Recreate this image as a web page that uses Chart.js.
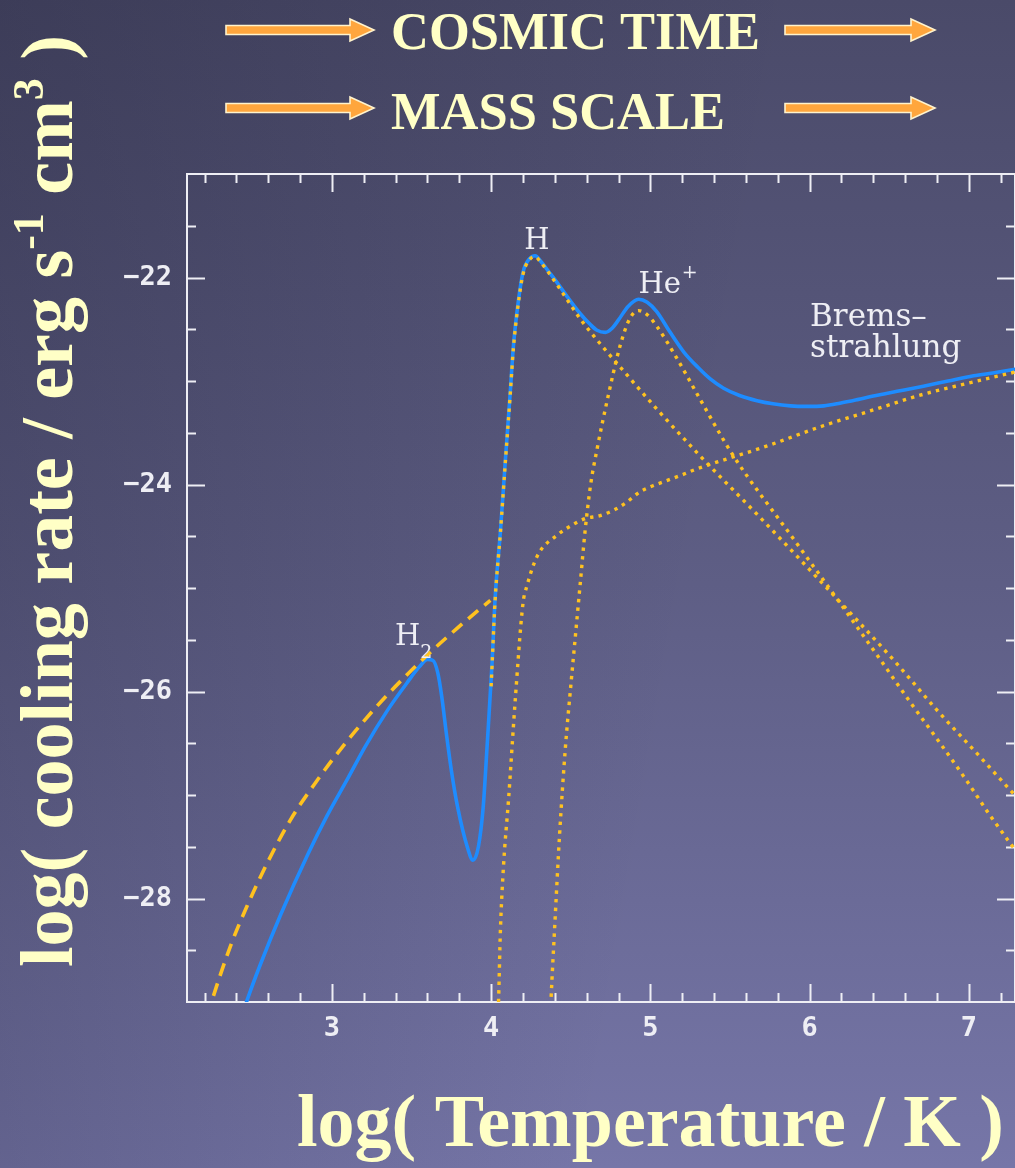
<!DOCTYPE html>
<html>
<head>
<meta charset="utf-8">
<title>Cooling function</title>
<script src="https://cdn.jsdelivr.net/npm/chart.js@4.4.1/dist/chart.umd.min.js"></script>
<style>
  html, body { margin: 0; padding: 0; width: 1015px; height: 1168px; overflow: hidden; }
  body {
    background:
      linear-gradient(100deg, rgba(25,25,45,0.28) 0%, rgba(25,25,45,0) 65%),
      linear-gradient(to bottom, #4a4a69 0%, #5e5e85 50%, #7676a8 100%);
  }
  #wrap { position: relative; width: 1015px; height: 1168px; }
</style>
</head>
<body>
<div id="wrap"><canvas id="chart" width="1015" height="1168"></canvas></div>
<script>
// ---- cooling curves: log T [K] vs log Lambda [erg s^-1 cm^3] ----

// total cooling rate (solid blue)
const totalLogT = [2.40, 2.468, 2.55, 2.68, 2.85, 2.97, 3.10, 3.21, 3.35, 3.47, 3.55, 3.60, 3.635, 3.665,
  3.69, 3.72, 3.75, 3.79, 3.85, 3.886, 3.92, 3.95, 3.975, 4.005, 4.025, 4.058, 4.09, 4.12, 4.14,
  4.17, 4.20, 4.24, 4.277, 4.31, 4.36, 4.41, 4.48, 4.56, 4.62, 4.665, 4.717, 4.76, 4.80, 4.86,
  4.926, 4.98, 5.04, 5.12, 5.21, 5.30, 5.376, 5.46, 5.56, 5.67, 5.77, 5.88, 5.98, 6.09, 6.19,
  6.30, 6.40, 6.55, 6.715, 6.87, 7.03, 7.16, 7.30];
const totalLogL = [-29.30, -28.98, -28.64, -28.15, -27.57, -27.20, -26.84, -26.53, -26.18, -25.92, -25.76, -25.69, -25.70, -25.82,
  -26.05, -26.42, -26.76, -27.12, -27.50, -27.63, -27.50, -27.12, -26.52, -25.75, -25.10, -24.46, -23.75, -23.11, -22.66,
  -22.24, -21.95, -21.82, -21.79, -21.84, -21.94, -22.04, -22.19, -22.35, -22.45, -22.51, -22.53, -22.49, -22.41, -22.28,
  -22.21, -22.24, -22.33, -22.52, -22.72, -22.87, -22.98, -23.07, -23.14, -23.19, -23.22, -23.24, -23.245, -23.24, -23.215,
  -23.18, -23.145, -23.10, -23.05, -23.00, -22.95, -22.92, -22.885];

// molecular hydrogen (dashed)
const h2LogT = [2.18, 2.248, 2.363, 2.468, 2.593, 2.74, 2.907, 3.074, 3.284, 3.47, 3.64, 3.786, 3.90, 3.995];
const h2LogL = [-29.33, -28.98, -28.46, -28.07, -27.66, -27.24, -26.86, -26.52, -26.14, -25.84, -25.59, -25.39, -25.24, -25.12];

// atomic hydrogen line cooling (dotted)
const hLogT = [4.00, 4.025, 4.058, 4.09, 4.12, 4.14, 4.17, 4.20, 4.24, 4.277, 4.31, 4.36, 4.41, 4.48,
  4.56, 4.685, 4.83, 5.04, 5.31, 5.69, 6.09, 6.53, 6.80, 7.04, 7.30];
const hLogL = [-25.95, -25.12, -24.47, -23.77, -23.13, -22.68, -22.26, -21.97, -21.83, -21.80, -21.85, -21.95, -22.06, -22.22,
  -22.40, -22.64, -22.90, -23.27, -23.72, -24.32, -24.97, -25.70, -26.18, -26.58, -27.02];

// singly ionised helium line cooling (dotted)
const heLogT = [4.37, 4.376, 4.40, 4.43, 4.466, 4.50, 4.53, 4.56, 4.59, 4.625, 4.665, 4.73, 4.81, 4.87,
  4.926, 4.98, 5.04, 5.17, 5.31, 5.52, 5.877, 6.09, 6.226, 6.42, 6.64, 6.82, 6.99, 7.13, 7.30];
const heLogL = [-29.20, -28.98, -28.25, -27.38, -26.55, -25.95, -25.45, -24.95, -24.45, -24.00, -23.66, -23.18, -22.66, -22.40,
  -22.32, -22.36, -22.47, -22.79, -23.17, -23.72, -24.48, -24.93, -25.22, -25.64, -26.12, -26.50, -26.87, -27.19, -27.55];

// recombination + bremsstrahlung (dotted)
const ffLogT = [4.040, 4.047, 4.058, 4.078, 4.11, 4.152, 4.20, 4.225, 4.29, 4.414, 4.50, 4.59, 4.685, 4.78,
  4.852, 4.935, 5.02, 5.125, 5.21, 5.29, 5.385, 5.71, 6.09, 6.40, 6.71, 7.00, 7.30];
const ffLogL = [-29.25, -28.97, -28.32, -27.68, -27.03, -26.07, -25.15, -24.98, -24.69, -24.49, -24.40, -24.33, -24.30, -24.24,
  -24.17, -24.07, -24.01, -23.95, -23.90, -23.85, -23.80, -23.64, -23.43, -23.28, -23.13, -23.02, -22.91];

// axes
const xTickValues = [3, 4, 5, 6, 7];
const yTickValues = [-28, -26, -24, -22];
const xRange = [2.09, 7.29];
const yRange = [-29, -21];

// curve annotations (data coordinates)
const curveLabels = [
  { text: 'H', sup: '', sub: '', x: 4.288, y: -21.72, align: 'center' },
  { text: 'He', sup: '+', sub: '', x: 4.925, y: -22.15, align: 'left' },
  { text: 'H', sup: '', sub: '2', x: 3.396, y: -25.55, align: 'left' }
];
const bremsLines = ['Brems\u2013', 'strahlung'];
const bremsAnchor = { x: 6.003, y: [-22.47, -22.77] };

const series = (xs, ys) => xs.map((x, i) => ({ x: x, y: ys[i] }));

const CREAM = '#ffffc6';
const GOLD = '#ffc21f';
const BLUE = '#1e8cff';
const WHITE = '#eeeef4';

function drawArrow(ctx, x0, x1, yc) {
  const head = 24, sh = 4.5, hh = 11;
  ctx.beginPath();
  ctx.moveTo(x0, yc - sh);
  ctx.lineTo(x1 - head, yc - sh);
  ctx.lineTo(x1 - head, yc - hh);
  ctx.lineTo(x1, yc);
  ctx.lineTo(x1 - head, yc + hh);
  ctx.lineTo(x1 - head, yc + sh);
  ctx.lineTo(x0, yc + sh);
  ctx.closePath();
  ctx.fillStyle = '#ffa63d';
  ctx.fill();
  ctx.lineWidth = 1.6;
  ctx.strokeStyle = '#fff3cc';
  ctx.stroke();
}

const decor = {
  id: 'decor',
  beforeDatasetsDraw(chart) {
    const { ctx, chartArea: a, scales: { x, y } } = chart;
    ctx.save();
    ctx.strokeStyle = WHITE;
    ctx.lineWidth = 2;
    ctx.strokeRect(a.left, a.top, a.right - a.left, a.bottom - a.top);
    const major = 18, minor = 9;
    ctx.beginPath();
    // x ticks, every 0.2 with a long tick at each integer
    for (let k = Math.ceil(xRange[0] * 5); k <= Math.floor(xRange[1] * 5); k++) {
      const v = k / 5;
      const len = (k % 5 === 0) ? major : minor;
      const px = Math.round(x.getPixelForValue(v)) + 0.5;
      ctx.moveTo(px, a.bottom); ctx.lineTo(px, a.bottom - len);
      ctx.moveTo(px, a.top); ctx.lineTo(px, a.top + len);
    }
    // y ticks, every 0.5 with a long tick at each even integer
    for (let k = yRange[0] * 2 + 1; k < yRange[1] * 2; k++) {
      const v = k / 2;
      const len = (k % 4 === 0) ? major : minor;
      const py = Math.round(y.getPixelForValue(v)) + 0.5;
      ctx.moveTo(a.left, py); ctx.lineTo(a.left + len, py);
      ctx.moveTo(a.right, py); ctx.lineTo(a.right - len, py);
    }
    ctx.stroke();
    ctx.restore();
  },
  afterDraw(chart) {
    const { ctx, scales: { x, y } } = chart;
    ctx.save();

    // headline arrows and text
    drawArrow(ctx, 226, 374, 30);
    drawArrow(ctx, 785, 935, 30);
    drawArrow(ctx, 226, 374, 108);
    drawArrow(ctx, 785, 935, 108);
    ctx.fillStyle = CREAM;
    ctx.font = 'bold 52.5px "Liberation Serif", "Times New Roman", serif';
    ctx.textAlign = 'left';
    ctx.textBaseline = 'alphabetic';
    ctx.fillText('COSMIC TIME', 391, 49);
    ctx.fillText('MASS SCALE', 391, 129);

    // axis titles
    const big = 'bold 74px "Liberation Serif", "Times New Roman", serif';
    const small = 'bold 44px "Liberation Serif", "Times New Roman", serif';
    ctx.font = big;
    ctx.fillText('log( Temperature / K )', 297, 1146);

    const parts = [
      { t: 'log( cooling rate / erg s', f: big, dy: 0 },
      { t: '-1', f: small, dy: -29 },
      { t: ' cm', f: big, dy: 0 },
      { t: '3', f: small, dy: -29 },
      { t: ' )', f: big, dy: 0 }
    ];
    let total = 0;
    parts.forEach(p => { ctx.font = p.f; p.w = ctx.measureText(p.t).width; total += p.w; });
    ctx.save();
    ctx.translate(72, 501);
    ctx.rotate(-Math.PI / 2);
    let cx = -total / 2;
    parts.forEach(p => { ctx.font = p.f; ctx.fillText(p.t, cx, p.dy); cx += p.w; });
    ctx.restore();

    // curve labels
    ctx.fillStyle = WHITE;
    curveLabels.forEach(l => {
      const px = x.getPixelForValue(l.x), py = y.getPixelForValue(l.y);
      ctx.font = '29px "DejaVu Serif", serif';
      const w = ctx.measureText(l.text).width;
      const left = l.align === 'center' ? px - w / 2 : px;
      ctx.textAlign = 'left';
      ctx.fillText(l.text, left, py);
      ctx.font = '19px "DejaVu Serif", serif';
      if (l.sup) ctx.fillText(l.sup, left + w + 1, py - 15);
      if (l.sub) ctx.fillText(l.sub, left + w, py + 13);
    });

    ctx.font = '31px "DejaVu Serif", serif';
    bremsLines.forEach((s, i) => {
      const px = x.getPixelForValue(bremsAnchor.x), py = y.getPixelForValue(bremsAnchor.y[i]);
      ctx.fillText(s, px, py);
    });
    ctx.restore();
  }
};

const dotted = { borderColor: GOLD, borderWidth: 3.4, borderDash: [3.4, 5.2], borderCapStyle: 'butt' };

new Chart(document.getElementById('chart'), {
  type: 'line',
  data: {
    datasets: [
      Object.assign({ label: 'H', data: series(hLogT, hLogL), order: 0 }, dotted),
      Object.assign({ label: 'He+', data: series(heLogT, heLogL), order: 0 }, dotted),
      Object.assign({ label: 'Bremsstrahlung', data: series(ffLogT, ffLogL), order: 0 }, dotted),
      { label: 'H2', data: series(h2LogT, h2LogL), order: 0, borderColor: GOLD, borderWidth: 3.6,
        borderDash: [13, 8], borderCapStyle: 'butt' },
      { label: 'total', data: series(totalLogT, totalLogL), order: 1, borderColor: BLUE, borderWidth: 3.6 }
    ]
  },
  options: {
    responsive: false,
    animation: false,
    events: [],
    elements: {
      point: { radius: 0 },
      line: { cubicInterpolationMode: 'monotone', fill: false }
    },
    layout: { padding: { top: 174, left: 0, right: 0, bottom: 0 } },
    plugins: { legend: { display: false }, tooltip: { enabled: false }, title: { display: false } },
    scales: {
      x: {
        type: 'linear', min: xRange[0], max: xRange[1],
        grid: { display: false, drawTicks: false }, border: { display: false },
        afterBuildTicks: s => { s.ticks = xTickValues.map(v => ({ value: v })); },
        afterFit: s => { s.height = 166; },
        ticks: {
          color: WHITE, padding: 11, maxRotation: 0,
          font: { family: '"DejaVu Sans Mono", monospace', size: 27, weight: 'bold' },
          callback: v => String(v)
        }
      },
      y: {
        type: 'linear', min: yRange[0], max: yRange[1],
        grid: { display: false, drawTicks: false }, border: { display: false },
        afterBuildTicks: s => { s.ticks = yTickValues.map(v => ({ value: v })); },
        afterFit: s => { s.width = 187; },
        ticks: {
          color: WHITE, padding: 15,
          font: { family: '"DejaVu Sans Mono", monospace', size: 27, weight: 'bold' },
          callback: v => String(v).replace('-', '\u2212')
        }
      }
    }
  },
  plugins: [decor]
});
</script>
</body>
</html>
